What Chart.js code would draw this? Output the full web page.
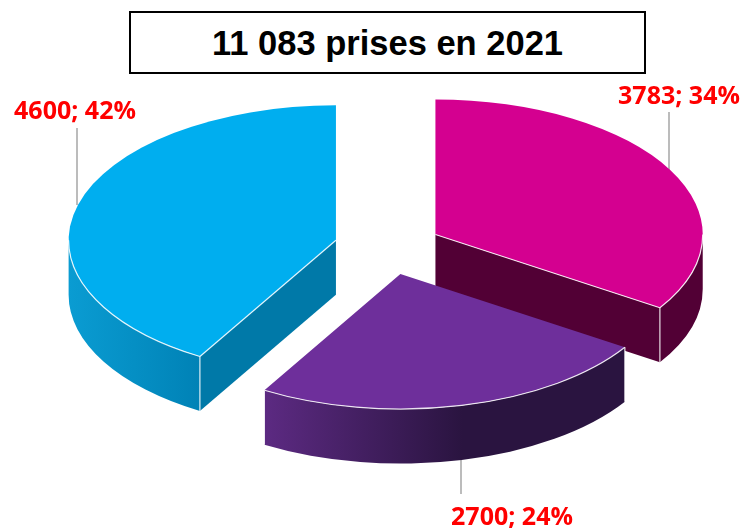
<!DOCTYPE html>
<html lang="fr">
<head>
<meta charset="utf-8">
<title>11 083 prises en 2021</title>
<script src="https://cdn.jsdelivr.net/npm/chart.js@4"></script>
<style>
  html, body { margin: 0; padding: 0; background: #fff; }
  #wrap { position: relative; width: 743px; height: 528px; overflow: hidden; }
  #titre {
    position: absolute; left: 129px; top: 11px; width: 513px; height: 59px;
    border: 2px solid #000; background: #fff; color: #000;
    font: bold 34.5px "Liberation Sans", Arial, sans-serif;
    line-height: 61px; text-align: center;
  }
</style>
</head>
<body>
<div id="wrap">
  <canvas id="chart" width="743" height="528"></canvas>
  <div id="titre">11 083 prises en 2021</div>
</div>
<script>
const categories = ['Groupe 1', 'Groupe 2', 'Groupe 3'];
const prises = [3783, 2700, 4600];
const pourcents = [34, 24, 42];

const topColors = ['#d40090', '#6e2f9b', '#00aeef'];
const wallColors = [['#520035', '#520035'], ['#5c2a82', '#2a1440'], ['#0a9cd2', '#0082b6']];
const cutColors = ['#520035', null, '#0079a8'];
const labelSpots = [[679, 97], [512, 518], [75, 112]];
const leaders = [[669, 112, 170], [461, 460, 494], [77, 128, 205]];

const stretch = 1.98; // ellipse is about twice as wide as it is tall
const explode = 54;   // gap between slices, horizontal px
const depth = 54.5;   // height of the cake

const cake = {
  id: 'cake',
  beforeDatasetDraw(chart, args) {
    const ctx = chart.ctx;
    const arcs = args.meta.data;

    ctx.strokeStyle = '#a6a6a6';
    ctx.lineWidth = 1.5;
    leaders.forEach(([x, y0, y1]) => {
      ctx.beginPath();
      ctx.moveTo(x, y0);
      ctx.lineTo(x, y1);
      ctx.stroke();
    });

    arcs.forEach((arc, i) => {
      const { x, y, startAngle: a0, endAngle: a1, outerRadius: r } = arc;
      const mid = (a0 + a1) / 2;
      const sx = x + Math.cos(mid) * explode;
      const sy = y + Math.sin(mid) * explode / stretch;
      const rx = r * stretch;

      // cut faces
      [a0, a1].forEach((a, k) => {
        const seen = k === 0 ? -Math.cos(a) : Math.cos(a);
        if (seen < 0.01 || !cutColors[i]) return;
        const ex = sx + Math.cos(a) * rx, ey = sy + Math.sin(a) * r;
        ctx.fillStyle = cutColors[i];
        ctx.beginPath();
        ctx.moveTo(sx, sy);
        ctx.lineTo(ex, ey);
        ctx.lineTo(ex, ey + depth);
        ctx.lineTo(sx, sy + depth);
        ctx.closePath();
        ctx.fill();
      });

      // outer wall, only the front part of the rim shows
      const w0 = Math.max(a0, 0), w1 = Math.min(a1, Math.PI);
      const xa = sx + Math.cos(w1) * rx, xb = sx + Math.cos(w0) * rx;
      const grad = ctx.createLinearGradient(xa, 0, i === 1 ? xa + (xb - xa) * 0.55 : xb, 0);
      grad.addColorStop(0, wallColors[i][0]);
      grad.addColorStop(1, wallColors[i][1]);
      ctx.fillStyle = grad;
      ctx.beginPath();
      ctx.ellipse(sx, sy, rx, r, 0, w0, w1);
      ctx.ellipse(sx, sy + depth, rx, r, 0, w1, w0, true);
      ctx.closePath();
      ctx.fill();

      // top, drawn by the arc element itself
      ctx.save();
      ctx.translate(sx, sy);
      ctx.scale(stretch, 1);
      ctx.translate(-x, -y);
      arc.draw(ctx);
      ctx.restore();

      // pale highlights along the edges
      ctx.strokeStyle = 'rgba(255,255,255,0.85)';
      ctx.lineWidth = 1.2;
      ctx.beginPath();
      ctx.ellipse(sx, sy, rx, r, 0, w0, w1);
      ctx.stroke();
      [w0, w1].forEach(a => {
        const ex = sx + Math.cos(a) * rx, ey = sy + Math.sin(a) * r;
        if (a === 0 || a === Math.PI) return;
        ctx.beginPath();
        ctx.moveTo(ex, ey);
        ctx.lineTo(ex, ey + depth);
        ctx.stroke();
      });
      [a0, a1].forEach((a, k) => {
        const seen = k === 0 ? -Math.cos(a) : Math.cos(a);
        if (seen < 0.01 || !cutColors[i]) return;
        ctx.beginPath();
        ctx.moveTo(sx, sy);
        ctx.lineTo(sx + Math.cos(a) * rx, sy + Math.sin(a) * r);
        ctx.stroke();
      });
    });
    return false;
  },
  afterDraw(chart) {
    const ctx = chart.ctx;
    ctx.save();
    ctx.fillStyle = '#ff0000';
    ctx.font = 'bold 25px "Open Sans", sans-serif';
    ctx.textAlign = 'center';
    ctx.textBaseline = 'middle';
    prises.forEach((v, i) => {
      ctx.fillText(v + '; ' + pourcents[i] + '%', labelSpots[i][0], labelSpots[i][1]);
    });
    ctx.restore();
  }
};

new Chart(document.getElementById('chart'), {
  type: 'pie',
  data: {
    labels: categories,
    datasets: [{
      data: prises,
      backgroundColor: topColors,
      borderWidth: 0,
      clip: false
    }]
  },
  options: {
    responsive: false,
    animation: false,
    layout: { padding: { left: 253, right: 220, top: 112.5, bottom: 145.5 } },
    plugins: { legend: { display: false }, tooltip: { enabled: false }, title: { display: false } }
  },
  plugins: [cake]
});
</script>
</body>
</html>
